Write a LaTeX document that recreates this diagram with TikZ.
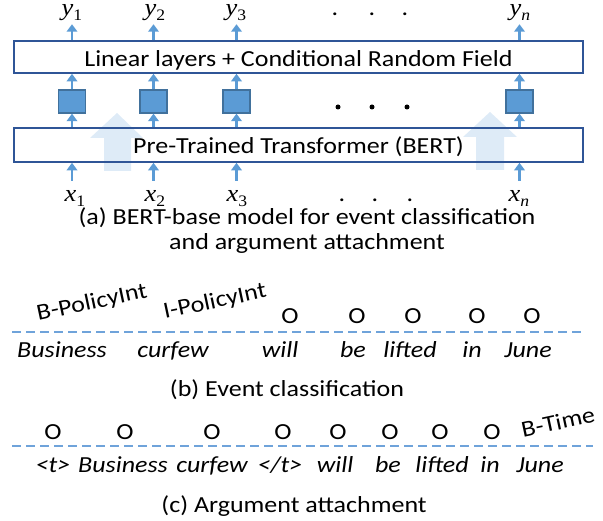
\documentclass[tikz,border=0pt]{standalone}
\usepackage{fontspec}
\setmainfont{Carlito}[FakeStretch=1.13]
\newfontfamily\mfont{Liberation Serif}[FakeStretch=1.1]
\newcommand\mvar[2]{{\mfont\fontsize{24}{26}\selectfont\itshape #1}\raisebox{-5pt}{\mfont\fontsize{16}{16}\selectfont #2}}
\usetikzlibrary{arrows.meta}
\definecolor{arr}{HTML}{5B9BD5}
\definecolor{boxc}{HTML}{2F5597}
\definecolor{sqb}{HTML}{41719C}
\definecolor{bigc}{HTML}{DEEBF7}
\definecolor{dashc}{HTML}{6FA3DA}
\begin{document}
\begin{tikzpicture}[x=1pt,y=-1pt,
  every node/.style={inner sep=0pt, font=\fontsize{23}{25}\selectfont},
  lbl/.style={anchor=base},
  wrd/.style={anchor=base, font=\fontsize{23}{25}\selectfont\itshape},
  sarr/.style={draw=arr, line width=2.4pt, -{Triangle[width=10.5pt,length=7.5pt]}},
  layerbox/.style={draw=boxc, line width=1.6pt, minimum width=569pt, text depth=0pt},
  sq/.style={draw=sqb, fill=arr, line width=1.3pt, minimum width=27pt, minimum height=23pt},
  bigarrow/.style={fill=bigc},
  dline/.style={draw=dashc, line width=1.6pt, dash pattern=on 9pt off 5pt},
  tag/.style={rotate=12}
]
\useasboundingbox (0,0) rectangle (603,521);
% big light arrows
\fill[bigarrow] (117,113) -- (143,138) -- (131,138) -- (131,171) -- (104,171) -- (104,138) -- (90,138) -- cycle;
\fill[bigarrow] (490,112) -- (517,137) -- (504,137) -- (504,170) -- (476,170) -- (476,137) -- (463,137) -- cycle;
% layer boxes
\node[layerbox, minimum height=32pt, text height=20pt] (crf) at (298.5,57) {Linear layers + Conditional Random Field};
\node[layerbox, minimum height=34pt, text height=18pt] (bert) at (298.5,145) {Pre-Trained Transformer (BERT)};
% outputs
\node[lbl] (y1) at (72,16) {\mvar{y}{1}};
\node[lbl] (y2) at (155,16) {\mvar{y}{2}};
\node[lbl] (y3) at (236,16) {\mvar{y}{3}};
\node[lbl] (yn) at (520,16) {\mvar{y}{\itshape n}};
\node[lbl] (td1) at (335,16) {.};
\node[lbl] (td2) at (372,16) {.};
\node[lbl] (td3) at (405,16) {.};
% inputs
\node[lbl] (x1) at (75,202) {\mvar{x}{1}};
\node[lbl] (x2) at (155,202) {\mvar{x}{2}};
\node[lbl] (x3) at (237,202) {\mvar{x}{3}};
\node[lbl] (xn) at (519,202) {\mvar{x}{\itshape n}};
\node[lbl] (bd1) at (342,202) {.};
\node[lbl] (bd2) at (375,202) {.};
\node[lbl] (bd3) at (410,202) {.};
% squares
\node[sq] (s1) at (72,101.5) {};
\node[sq] (s2) at (153.5,101.5) {};
\node[sq] (s3) at (236.5,101.5) {};
\node[sq] (sn) at (519.5,101.5) {};
\fill (338,107) circle (2.5pt) (372,107) circle (2.5pt) (407,107) circle (2.5pt);
% arrows
\foreach \s in {s1, s2, s3, sn}{
  \draw[sarr] (\s.north |- crf.north) -- ([yshift=16pt]\s.north |- crf.north);
  \draw[sarr] (\s.north) -- (\s.north |- crf.south);
  \draw[sarr] (\s.south |- bert.north) -- (\s.south);
  \draw[sarr] ([yshift=-18pt]\s.south |- bert.south) -- (\s.south |- bert.south);
}
% caption a
\node[align=center] (capa) at (307,230.5) {(a) BERT-base model for event classification\\and argument attachment};
% (b) event classification
\node[tag] (bpol) at (92,303) {B-PolicyInt};
\node[tag] (ipol) at (215,302) {I-PolicyInt};
\foreach \x [count=\i] in {290,357,413,477,532}{
  \node[lbl] (bo\i) at (\x,324) {O};
}
\coordinate (bl) at (12,332);
\coordinate (br) at (585,332);
\draw[dline] (bl) -- (br);
\node[wrd] (bw1) at (62,358) {Business};
\node[wrd] (bw2) at (173,358) {curfew};
\node[wrd] (bw3) at (280,358) {will};
\node[wrd] (bw4) at (353,358) {be};
\node[wrd] (bw5) at (410,358) {lifted};
\node[wrd] (bw6) at (472,358) {in};
\node[wrd] (bw7) at (528,358) {June};
\node[lbl] (capb) at (287,397) {(b) Event classification};
% (c) argument attachment
\foreach \x [count=\i] in {53,125,212,283,338,390,440,492}{
  \node[lbl] (co\i) at (\x,440) {O};
}
\node[tag] (btime) at (558,422) {B-Time};
\coordinate (cl) at (12,446);
\coordinate (cr) at (593,446);
\draw[dline] (cl) -- (cr);
\node[wrd] (cw1) at (53,473) {<t>};
\node[wrd] (cw2) at (123,473) {Business};
\node[wrd] (cw3) at (212,473) {curfew};
\node[wrd] (cw4) at (280,473) {</t>};
\node[wrd] (cw5) at (335,473) {will};
\node[wrd] (cw6) at (388,473) {be};
\node[wrd] (cw7) at (442,473) {lifted};
\node[wrd] (cw8) at (490,473) {in};
\node[wrd] (cw9) at (540,473) {June};
\node[lbl] (capc) at (294,512) {(c) Argument attachment};
\end{tikzpicture}
\end{document}
